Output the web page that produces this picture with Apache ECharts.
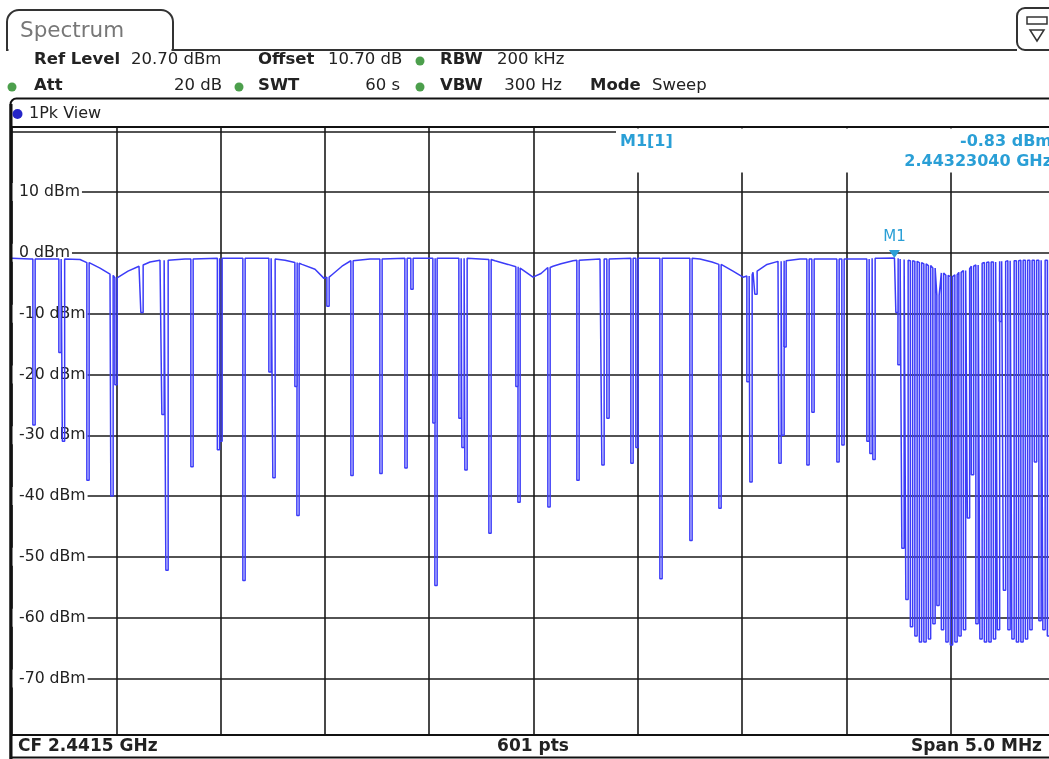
<!DOCTYPE html>
<html><head><meta charset="utf-8">
<script src="https://cdn.jsdelivr.net/npm/echarts@6/dist/echarts.min.js"></script>
<style>html,body{margin:0;padding:0;background:#fff;overflow:hidden;}#c{width:1056px;height:759px;}</style>
</head><body><div id="c"></div>
<script>
// ---- data ----
const startFreqMHz = 2439.0;           // CF 2.4415 GHz, span 5.0 MHz
const spanMHz = 5.0;
const refLevel = 20.7;                 // dBm, top of screen
const bottomLevel = -79.3;             // dBm, bottom of screen
const yTickValues = [10, 0, -10, -20, -30, -40, -50, -60, -70];

// trace envelope (frequency offset in MHz from start, level in dBm)
const envFreq  = [0, 0.0863, 0.3260, 0.3739, 0.4219, 0.4698, 0.5082, 0.5561, 0.6088, 0.6616, 0.7095, 0.8293,
                  1.0451, 1.1889, 1.3087, 1.3902, 1.4526, 1.4957, 1.5340, 1.5820, 1.6443, 1.7162, 1.9559,
                  2.2435, 2.3154, 2.3778, 2.4449, 2.4976, 2.5360, 2.5935, 2.6318, 2.6894, 2.8188, 3.0585,
                  3.2982, 3.3557, 3.4036, 3.4564, 3.5043, 3.5523, 3.6194, 3.6721, 3.7776, 4.0652, 4.1611,
                  4.2304, 5.0];
const envLevel = [-0.9, -1.0, -1.1, -1.7, -2.5, -3.5, -4.1, -3.0, -2.2, -1.5, -1.2, -1.0,
                  -0.9, -0.9, -1.2, -1.9, -2.7, -4.2, -3.6, -2.2, -1.4, -1.0, -0.9,
                  -1.0, -1.3, -1.9, -2.7, -4.0, -3.4, -2.2, -1.8, -1.3, -1.0, -0.9,
                  -1.0, -1.5, -2.0, -3.0, -4.0, -3.2, -1.9, -1.4, -1.0, -1.0, -0.9,
                  -0.83, -1.2];

// notches (frequency offset MHz, level at top, level at bottom)
const notchFreq = [0.1055, 0.2301, 0.2469, 0.3643, 0.4794, 0.4986, 0.6232, 0.7239, 0.7431, 0.8629,
                   0.9899, 1.0019, 1.1122, 1.2368, 1.2560, 1.3615, 1.3710, 1.5149, 1.6299, 1.7689,
                   1.8888, 1.9175, 2.0230, 2.0326, 2.1477, 2.1620, 2.1764, 2.2915, 2.4209, 2.4305,
                   2.5743, 2.7133, 2.8332, 2.8571, 2.9722, 2.9962, 3.1112, 3.2550, 3.3941, 3.5283,
                   3.5427, 3.5666, 3.6817, 3.6961, 3.7057, 3.8159, 3.8399, 3.9597, 3.9837, 4.1035,
                   4.1179, 4.1323, 4.2426, 4.2522, 4.2713, 4.2905, 4.3121, 4.3336, 4.3552, 4.3768,
                   4.3984, 4.4199, 4.4391, 4.4607, 4.4823, 4.5038, 4.5254, 4.5446, 4.5662, 4.5853,
                   4.6045, 4.6261, 4.6453, 4.6668, 4.6884, 4.7100, 4.7292, 4.7388, 4.7579, 4.7795,
                   4.7987, 4.8202, 4.8418, 4.8634, 4.8849, 4.9065, 4.9281, 4.9473, 4.9688, 4.9904];
const notchTop = [-1.0, -1.0, -1.0, -1.6, -3.7, -4.1, -2.0, -1.2, -1.2, -1.0,
                  -0.9, -0.9, -0.9, -0.9, -1.0, -1.6, -1.7, -4.0, -1.3, -1.0,
                  -0.9, -0.9, -0.9, -0.9, -0.9, -0.9, -0.9, -1.1, -2.3, -2.5,
                  -2.4, -1.2, -1.0, -1.0, -0.9, -0.9, -0.9, -0.9, -1.9, -3.8,
                  -3.6, -3.0, -1.4, -1.3, -1.3, -1.0, -1.0, -1.0, -1.0, -1.0,
                  -0.9, -0.9, -0.9, -1.0, -1.1, -1.2, -1.3, -1.4, -1.6, -1.8,
                  -2.1, -2.5, -7.0, -3.3, -3.7, -3.9, -3.6, -3.2, -2.9, -2.6,
                  -2.2, -2.0, -1.7, -1.6, -1.5, -1.5, -1.4, -1.4, -1.4, -1.3,
                  -1.3, -1.3, -1.2, -1.2, -1.2, -1.2, -1.2, -1.2, -1.2, -1.2];
const notchDepth = [-28.3, -16.4, -31.0, -37.4, -40.0, -21.7, -9.8, -26.6, -52.2, -35.2,
                    -32.4, -31.0, -53.9, -19.6, -37.0, -22.0, -43.2, -8.8, -36.6, -36.3,
                    -35.4, -6.0, -28.0, -54.7, -27.2, -32.0, -35.7, -46.1, -22.0, -41.0,
                    -41.8, -37.4, -34.9, -27.2, -34.6, -32.0, -53.6, -47.3, -42.0, -21.2,
                    -37.7, -6.8, -34.6, -30.0, -15.5, -34.9, -26.2, -34.4, -31.6, -31.0,
                    -33.0, -34.0, -9.8, -18.4, -48.6, -57.0, -61.5, -63.0, -64.0, -64.0,
                    -63.5, -61.0, -58.0, -62.0, -64.0, -64.5, -64.0, -63.0, -62.0, -43.6,
                    -36.5, -61.0, -63.5, -64.0, -64.0, -63.5, -62.0, -11.3, -55.5, -62.0,
                    -63.5, -64.0, -64.0, -63.5, -62.0, -34.4, -60.5, -62.0, -63.0, -63.0];

const marker = { name: 'M1', freq: 4.2304, level: -0.83 };

// ---- build the trace for the line series ----
const NOTCH_HALF = 0.0055; // half-width of a notch stroke
const items = [];
envFreq.forEach((f, i) => items.push({ k: f, p: [[f, envLevel[i]]] }));
notchFreq.forEach((f, i) => items.push({ k: f, p: [
  [f - NOTCH_HALF, notchTop[i]], [f - NOTCH_HALF, notchDepth[i]],
  [f + NOTCH_HALF, notchDepth[i]], [f + NOTCH_HALF, notchTop[i]]] }));
items.sort((a, b) => a.k - b.k);
const trace = items.flatMap(o => o.p);

const FONT = "'DejaVu Sans', Verdana, sans-serif";
const INK = '#222';
const TEAL = '#2a9fd6';
const GREEN = '#4c9f4c';

function txt(x, y, s, opt) {
  opt = opt || {};
  return { type: 'text', z: 20, x: x, y: y, style: {
    text: s, fill: opt.color || INK, font: (opt.bold ? 'bold ' : '') + (opt.size || 16.5) + 'px ' + FONT,
    textAlign: opt.align || 'left', textVerticalAlign: 'middle' } };
}
function dot(x, y, color) {
  return { type: 'circle', z: 20, shape: { cx: x, cy: y, r: 4.5 }, style: { fill: color || GREEN } };
}
function line(x1, y1, x2, y2, w, c) {
  return { type: 'line', z: 20, shape: { x1: x1, y1: y1, x2: x2, y2: y2 }, style: { stroke: c || '#111', lineWidth: w || 2 } };
}

const graphics = [
  // tabs
  { type: 'rect', z: 20, shape: { x: 7, y: 10, width: 166, height: 40, r: [12, 12, 0, 0] },
    style: { stroke: '#333', lineWidth: 2, fill: '#fff' } },
  line(8.5, 50, 171.5, 50, 3, '#fff'),
  line(172, 50, 1017, 50, 2, '#333'),
  { type: 'rect', z: 20, shape: { x: 1017, y: 8, width: 50, height: 42, r: 8 }, style: { stroke: '#333', lineWidth: 2, fill: '#fff' } },
  { type: 'rect', z: 21, shape: { x: 1027, y: 17, width: 20, height: 7 }, style: { stroke: '#333', lineWidth: 1.5, fill: '#fff' } },
  line(1034, 17, 1034, 24, 1.2), line(1040, 17, 1040, 24, 1.2),
  { type: 'polygon', z: 21, shape: { points: [[1030, 30], [1044, 30], [1037, 41]] }, style: { stroke: '#333', lineWidth: 1.5, fill: '#fff' } },
  txt(20, 31, 'Spectrum', { size: 21.5, color: '#777' }),

  // header row 1
  txt(34, 60, 'Ref Level', { bold: true }),
  txt(131, 60, '20.70 dBm'),
  txt(258, 60, 'Offset', { bold: true }),
  txt(328, 60, '10.70 dB'),
  dot(420, 61),
  txt(440, 60, 'RBW', { bold: true }),
  txt(497, 60, '200 kHz'),
  // header row 2
  dot(12, 87),
  txt(34, 86, 'Att', { bold: true }),
  txt(222, 86, '20 dB', { align: 'right' }),
  dot(239, 87),
  txt(258, 86, 'SWT', { bold: true }),
  txt(400, 86, '60 s', { align: 'right' }),
  dot(420, 87),
  txt(440, 86, 'VBW', { bold: true }),
  txt(562, 86, '300 Hz', { align: 'right' }),
  txt(590, 86, 'Mode', { bold: true }),
  txt(652, 86, 'Sweep'),

  // window frame
  { type: 'rect', z: 20, shape: { x: 10.5, y: 98.5, width: 1060, height: 700, r: [6, 0, 0, 0] },
    style: { stroke: '#111', lineWidth: 2, fill: null } },
  line(11, 104, 11, 759, 3),
  line(10, 127, 1060, 127, 2),
  line(10, 735, 1060, 735, 2),
  line(10, 757.5, 1060, 757.5, 2),
  { type: 'circle', z: 21, shape: { cx: 17.5, cy: 114, r: 5 }, style: { fill: '#2626c8' } },
  txt(29, 114, '1Pk View', { size: 16 }),

  // marker readout box
  { type: 'rect', z: 1, shape: { x: 616, y: 128.5, width: 440, height: 44 }, style: { fill: '#fff' } },
  txt(620, 142, marker.name + '[1]', { bold: true, size: 16, color: TEAL }),
  txt(1052, 142, marker.level.toFixed(2) + ' dBm', { bold: true, size: 16, color: TEAL, align: 'right' }),
  txt(1052, 162, ((startFreqMHz + marker.freq) / 1000).toFixed(8) + ' GHz', { bold: true, size: 16, color: TEAL, align: 'right' }),

  // bottom bar
  txt(18, 747, 'CF ' + ((startFreqMHz + spanMHz / 2) / 1000).toFixed(4) + ' GHz', { bold: true, size: 17 }),
  txt(533, 747, '601 pts', { bold: true, size: 17, align: 'center' }),
  txt(1042, 747, 'Span ' + spanMHz.toFixed(1) + ' MHz', { bold: true, size: 17, align: 'right' })
];

const chart = echarts.init(document.getElementById('c'), null, { renderer: 'canvas' });
chart.setOption({
  animation: false,
  backgroundColor: '#fff',
  grid: { left: 12, top: 127, right: 1, height: 608, containLabel: false },
  xAxis: {
    type: 'value', min: 0, max: spanMHz, interval: 0.5,
    axisLine: { show: false }, axisTick: { show: false }, axisLabel: { show: false },
    splitLine: { show: true, lineStyle: { color: '#1a1a1a', width: 1.6 } }
  },
  yAxis: {
    type: 'value', min: bottomLevel, max: refLevel, splitNumber: 10,
    axisLine: { show: false }, axisTick: { show: false },
    splitLine: { show: true, lineStyle: { color: '#1a1a1a', width: 1.6 } },
    axisLabel: {
      inside: true, margin: 0, showMinLabel: false, showMaxLabel: false,
      color: INK, fontSize: 15.7, fontFamily: FONT,
      rich: { a: { color: INK, fontSize: 15.7, fontFamily: FONT, backgroundColor: '#fff', padding: [1, 2, 1, 7] } },
      formatter: v => { const r = Math.round(v); return (Math.abs(v - r) < 1e-6 && yTickValues.indexOf(r) >= 0) ? '{a|' + r + ' dBm}' : ''; }
    }
  },
  series: [{
    type: 'line', data: trace, showSymbol: false, silent: true, sampling: null,
    lineStyle: { color: '#3c3cf8', width: 1.5 },
    markPoint: {
      symbol: 'triangle', symbolRotate: 180, symbolSize: [11, 8], symbolOffset: [0, -4],
      itemStyle: { color: TEAL },
      label: { show: true, position: 'top', distance: 5, formatter: marker.name, color: TEAL, fontSize: 15, fontFamily: FONT },
      data: [{ coord: [marker.freq, marker.level] }]
    }
  }],
  graphic: { elements: graphics }
});
</script></body></html>
